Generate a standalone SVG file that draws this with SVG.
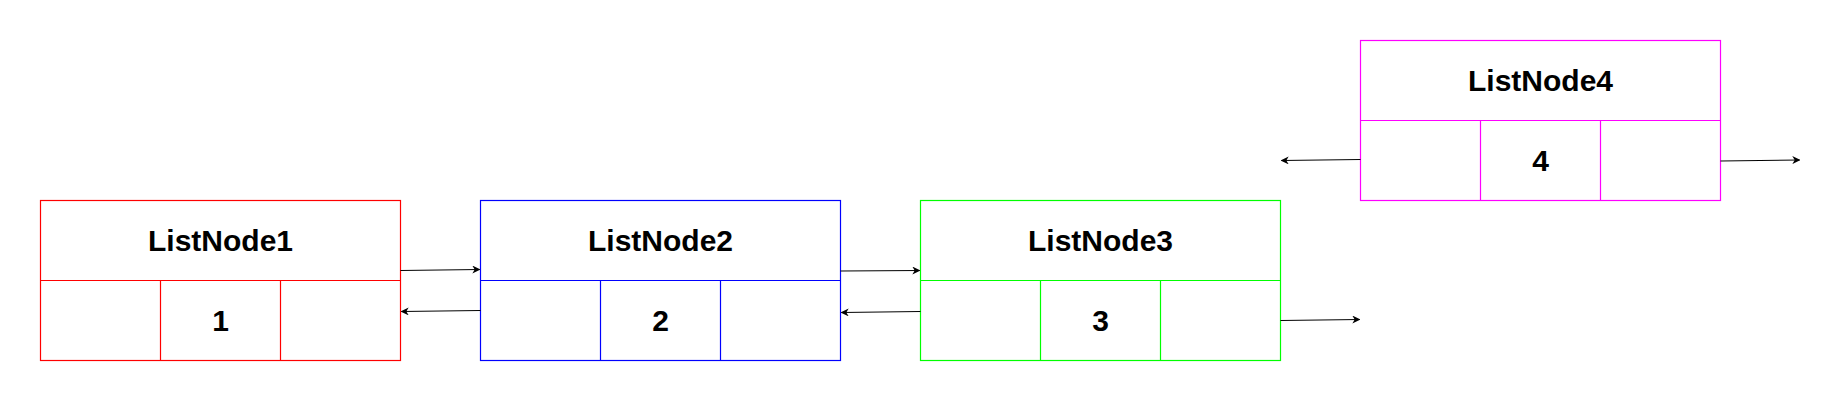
<svg xmlns="http://www.w3.org/2000/svg" width="1839" height="400" viewBox="0 0 1839 400">
<style>
.box{fill:#fff;stroke-width:1.2}
.div{fill:none;stroke-width:1.2}
.t{font-family:"Liberation Sans",Arial,sans-serif;font-weight:bold;font-size:30px;text-anchor:middle;fill:#000}
.c{fill:none;stroke:#000;stroke-width:1.2}
</style>
<defs>
<marker id="ah" viewBox="0 0 10 10" refX="9" refY="5" markerWidth="8" markerHeight="8" markerUnits="userSpaceOnUse" orient="auto">
<path d="M0,0 L10,5 L0,10 L3,5 Z" fill="#000"/>
</marker>
</defs>
<rect width="1839" height="400" fill="#fff"/>
<g id="node1" stroke="#FF0000">
<rect class="box" x="40.5" y="200.5" width="360" height="160"/>
<path class="div" d="M40.5,280.5H400.5M160.5,280.5V360.5M280.5,280.5V360.5"/>
<text class="t" x="220.5" y="251" stroke="none">ListNode1</text>
<text class="t" x="220.5" y="331" stroke="none">1</text>
</g>
<g id="node2" stroke="#0000FF">
<rect class="box" x="480.5" y="200.5" width="360" height="160"/>
<path class="div" d="M480.5,280.5H840.5M600.5,280.5V360.5M720.5,280.5V360.5"/>
<text class="t" x="660.5" y="251" stroke="none">ListNode2</text>
<text class="t" x="660.5" y="331" stroke="none">2</text>
</g>
<g id="node3" stroke="#00FF00">
<rect class="box" x="920.5" y="200.5" width="360" height="160"/>
<path class="div" d="M920.5,280.5H1280.5M1040.5,280.5V360.5M1160.5,280.5V360.5"/>
<text class="t" x="1100.5" y="251" stroke="none">ListNode3</text>
<text class="t" x="1100.5" y="331" stroke="none">3</text>
</g>
<g id="node4" stroke="#FF00FF">
<rect class="box" x="1360.5" y="40.5" width="360" height="160"/>
<path class="div" d="M1360.5,120.5H1720.5M1480.5,120.5V200.5M1600.5,120.5V200.5"/>
<text class="t" x="1540.5" y="91" stroke="none">ListNode4</text>
<text class="t" x="1540.5" y="171" stroke="none">4</text>
</g>
<g id="connectors">
<line class="c" x1="400.5" y1="270.5" x2="479.5" y2="269.5" marker-end="url(#ah)"/>
<line class="c" x1="480.5" y1="310.5" x2="401.5" y2="311.5" marker-end="url(#ah)"/>
<line class="c" x1="840.5" y1="271" x2="919.5" y2="270.5" marker-end="url(#ah)"/>
<line class="c" x1="920.5" y1="311.5" x2="841.5" y2="312.5" marker-end="url(#ah)"/>
<line class="c" x1="1280.5" y1="320.5" x2="1359.5" y2="319.5" marker-end="url(#ah)"/>
<line class="c" x1="1360.5" y1="159.5" x2="1281.5" y2="160.5" marker-end="url(#ah)"/>
<line class="c" x1="1720.5" y1="161" x2="1799.5" y2="160" marker-end="url(#ah)"/>
</g>
</svg>
